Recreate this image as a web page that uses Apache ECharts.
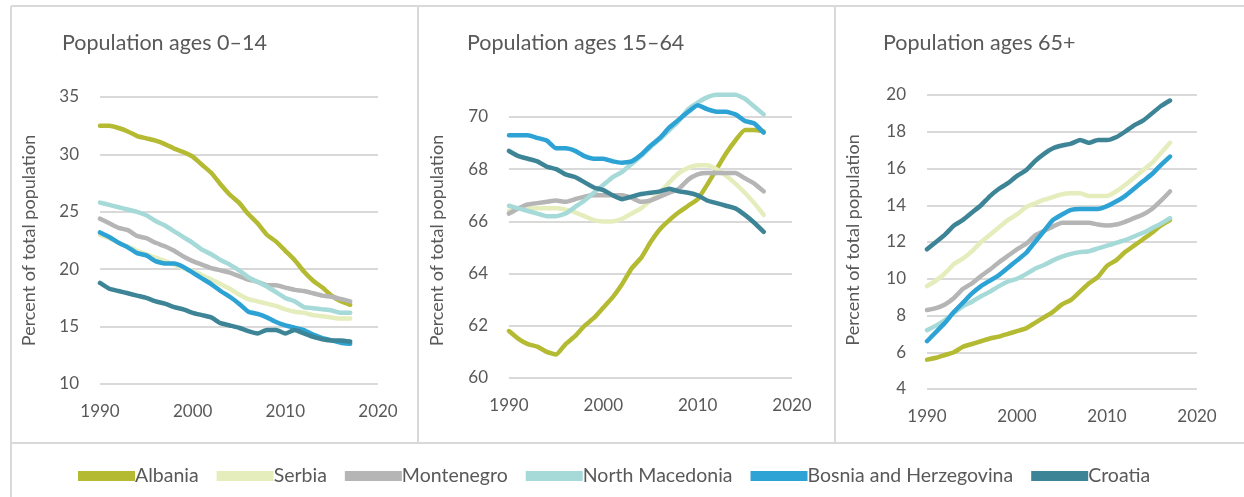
<!DOCTYPE html>
<html>
<head>
<meta charset="utf-8">
<title>Population by age group</title>
<script src="https://cdn.jsdelivr.net/npm/echarts@6/dist/echarts.min.js"></script>
<style>
  html, body { margin: 0; padding: 0; background: #fff; }
  #chart { width: 1244px; height: 497px; }
</style>
</head>
<body>
<div id="chart"></div>
<script>
// data
const years = [1990, 1991, 1992, 1993, 1994, 1995, 1996, 1997, 1998, 1999,
  2000, 2001, 2002, 2003, 2004, 2005, 2006, 2007, 2008, 2009,
  2010, 2011, 2012, 2013, 2014, 2015, 2016, 2017]

const countries = ['Albania', 'Serbia', 'Montenegro', 'North Macedonia', 'Bosnia and Herzegovina', 'Croatia']
const colors = ['#B5BA33', '#E6EDBD', '#B5B5B5', '#A6DAD8', '#2CA2D5', '#3D8596']

const panelTitles = ['Population ages 0–14', 'Population ages 15–64', 'Population ages 65+']
const yMin = [10, 60, 4]
const yMax = [35, 70, 20]
const yStep = [5, 2, 2]
const xTicks = [1990, 2000, 2010, 2020]

// ages 0-14
const albania014 = [32.5, 32.5, 32.3, 32.0, 31.6, 31.4, 31.2, 30.9, 30.5, 30.2, 29.8, 29.1, 28.4, 27.4, 26.5, 25.8, 24.8, 24.0, 23.0, 22.4, 21.6, 20.8, 19.8, 19.0, 18.4, 17.7, 17.2, 16.9]
const serbia014 = [23.0, 22.7, 22.3, 22.0, 21.6, 21.3, 21.0, 20.7, 20.4, 20.1, 19.8, 19.5, 19.1, 18.7, 18.3, 17.8, 17.4, 17.2, 17.0, 16.8, 16.5, 16.3, 16.2, 16.0, 15.9, 15.8, 15.7, 15.7]
const montenegro014 = [24.4, 24.0, 23.6, 23.4, 22.9, 22.7, 22.3, 22.0, 21.6, 21.1, 20.7, 20.4, 20.1, 19.9, 19.7, 19.4, 19.1, 18.9, 18.6, 18.6, 18.4, 18.2, 18.1, 17.9, 17.7, 17.6, 17.4, 17.2]
const macedonia014 = [25.8, 25.6, 25.4, 25.2, 25.0, 24.7, 24.2, 23.8, 23.3, 22.8, 22.3, 21.7, 21.3, 20.8, 20.4, 19.9, 19.3, 18.9, 18.5, 18.0, 17.5, 17.2, 16.7, 16.6, 16.5, 16.4, 16.2, 16.2]
const bosnia014 = [23.2, 22.8, 22.3, 21.9, 21.4, 21.2, 20.7, 20.5, 20.5, 20.2, 19.7, 19.2, 18.7, 18.1, 17.6, 17.0, 16.3, 16.1, 15.8, 15.4, 15.1, 14.9, 14.7, 14.3, 14.0, 13.8, 13.6, 13.5]
const croatia014 = [18.8, 18.3, 18.1, 17.9, 17.7, 17.5, 17.2, 17.0, 16.7, 16.5, 16.2, 16.0, 15.8, 15.3, 15.1, 14.9, 14.6, 14.4, 14.7, 14.7, 14.4, 14.7, 14.4, 14.1, 13.9, 13.8, 13.8, 13.7]

// ages 15-64
const albania1564 = [61.8, 61.5, 61.3, 61.2, 61.0, 60.9, 61.3, 61.6, 62.0, 62.3, 62.7, 63.1, 63.6, 64.2, 64.6, 65.2, 65.7, 66.05, 66.35, 66.6, 66.85, 67.4, 68.0, 68.6, 69.1, 69.5, 69.5, 69.45]
const serbia1564 = [66.4, 66.5, 66.5, 66.5, 66.5, 66.5, 66.45, 66.35, 66.2, 66.05, 66.0, 66.0, 66.1, 66.3, 66.5, 66.8, 67.1, 67.5, 67.85, 68.05, 68.15, 68.15, 68.0, 67.75, 67.45, 67.1, 66.7, 66.25]
const montenegro1564 = [66.3, 66.5, 66.65, 66.7, 66.75, 66.8, 66.75, 66.85, 66.95, 67.0, 67.0, 67.0, 67.0, 66.9, 66.75, 66.8, 66.95, 67.1, 67.25, 67.6, 67.8, 67.85, 67.85, 67.85, 67.85, 67.65, 67.45, 67.15]
const macedonia1564 = [66.6, 66.5, 66.4, 66.3, 66.2, 66.2, 66.3, 66.55, 66.8, 67.1, 67.4, 67.7, 67.9, 68.2, 68.5, 68.85, 69.15, 69.5, 69.85, 70.3, 70.55, 70.75, 70.85, 70.85, 70.85, 70.7, 70.4, 70.1]
const bosnia1564 = [69.3, 69.3, 69.3, 69.2, 69.1, 68.8, 68.8, 68.7, 68.5, 68.4, 68.4, 68.3, 68.25, 68.3, 68.55, 68.9, 69.2, 69.6, 69.9, 70.2, 70.45, 70.3, 70.2, 70.2, 70.1, 69.85, 69.75, 69.4]
const croatia1564 = [68.7, 68.5, 68.4, 68.3, 68.1, 68.0, 67.8, 67.7, 67.5, 67.3, 67.2, 67.0, 66.85, 66.95, 67.05, 67.1, 67.15, 67.25, 67.15, 67.1, 67.0, 66.8, 66.7, 66.6, 66.5, 66.25, 65.95, 65.6]

// ages 65+
const albania65 = [5.6, 5.7, 5.85, 6.0, 6.3, 6.45, 6.6, 6.75, 6.85, 7.0, 7.15, 7.3, 7.6, 7.9, 8.2, 8.6, 8.85, 9.3, 9.75, 10.1, 10.7, 11.0, 11.45, 11.8, 12.15, 12.5, 12.9, 13.2]
const serbia65 = [9.6, 9.9, 10.3, 10.8, 11.1, 11.5, 12.0, 12.4, 12.8, 13.2, 13.5, 13.9, 14.1, 14.3, 14.45, 14.6, 14.65, 14.65, 14.5, 14.5, 14.5, 14.75, 15.1, 15.5, 15.9, 16.3, 16.85, 17.4]
const montenegro65 = [8.3, 8.4, 8.6, 8.95, 9.45, 9.75, 10.15, 10.5, 10.9, 11.25, 11.6, 11.9, 12.35, 12.6, 12.85, 13.05, 13.05, 13.05, 13.05, 12.95, 12.9, 12.95, 13.1, 13.3, 13.5, 13.8, 14.25, 14.75]
const macedonia65 = [7.2, 7.45, 7.75, 8.15, 8.5, 8.75, 9.05, 9.3, 9.6, 9.85, 10.0, 10.25, 10.55, 10.75, 11.0, 11.2, 11.35, 11.45, 11.5, 11.65, 11.8, 11.95, 12.1, 12.3, 12.5, 12.75, 13.0, 13.3]
const bosnia65 = [6.6, 7.1, 7.6, 8.2, 8.7, 9.2, 9.6, 9.9, 10.2, 10.6, 11.0, 11.4, 12.0, 12.6, 13.2, 13.5, 13.75, 13.8, 13.8, 13.8, 13.95, 14.2, 14.5, 14.9, 15.3, 15.7, 16.2, 16.65]
const croatia65 = [11.6, 12.0, 12.4, 12.9, 13.2, 13.6, 14.0, 14.5, 14.9, 15.2, 15.6, 15.9, 16.4, 16.8, 17.1, 17.25, 17.35, 17.55, 17.4, 17.55, 17.55, 17.7, 18.0, 18.35, 18.6, 19.0, 19.4, 19.7]

const panelData = [
  [albania014, serbia014, montenegro014, macedonia014, bosnia014, croatia014],
  [albania1564, serbia1564, montenegro1564, macedonia1564, bosnia1564, croatia1564],
  [albania65, serbia65, montenegro65, macedonia65, bosnia65, croatia65]
]

const font = 'Lato, "Open Sans", sans-serif'
const textColor = '#595959'
const frameColor = '#D9D9D9'

// plot area of each panel (px)
const grids = [
  { left: 100, top: 97, width: 278, height: 287 },
  { left: 509, top: 117, width: 283, height: 261 },
  { left: 927, top: 95, width: 270, height: 294 }
]
const titleLeft = [57, 462, 878]
const nameGap = [62, 63, 65]
const namePad = [[0, 0, 0, 0], [0, 0, 0, 14], [0, 0, 0, 4]]

const chart = echarts.init(document.getElementById('chart'), null, { renderer: 'canvas' })

const series = []
panelData.forEach((rows, p) => {
  rows.forEach((vals, i) => {
    series.push({
      name: countries[i],
      type: 'line',
      xAxisIndex: p,
      yAxisIndex: p,
      data: years.map((y, k) => [y, vals[k]]),
      showSymbol: false,
      clip: false,
      smooth: 0.15,
      lineStyle: { width: 4.5, color: colors[i], cap: 'round', join: 'round' },
      itemStyle: { color: colors[i] },
      emphasis: { disabled: true }
    })
  })
})

const option = {
  animation: false,
  textStyle: { fontFamily: font },
  title: panelTitles.map((t, p) => ({
    text: t,
    left: titleLeft[p],
    top: 27,
    textStyle: { fontFamily: font, fontSize: 21.5, fontWeight: 'normal', color: textColor }
  })),
  legend: {
    data: countries,
    left: 73,
    top: 461,
    icon: 'rect',
    itemWidth: 57,
    itemHeight: 10,
    itemGap: 18,
    textStyle: { fontFamily: font, fontSize: 19.5, color: textColor, padding: [0, 0, 0, -5] }
  },
  grid: grids.map(g => ({ ...g, containLabel: false })),
  xAxis: grids.map((g, p) => ({
    type: 'value',
    gridIndex: p,
    min: xTicks[0],
    max: xTicks[xTicks.length - 1],
    interval: 10,
    axisLine: { show: false },
    axisTick: { show: false },
    splitLine: { show: false },
    axisLabel: { color: textColor, fontSize: 17, margin: 19, fontFamily: font, formatter: v => String(v) }
  })),
  yAxis: grids.map((g, p) => ({
    type: 'value',
    gridIndex: p,
    min: yMin[p],
    max: yMax[p],
    interval: yStep[p],
    name: 'Percent of total population',
    nameLocation: 'middle',
    nameRotate: 90,
    nameGap: nameGap[p],
    nameTextStyle: { color: textColor, fontSize: 18, fontFamily: font, padding: namePad[p] },
    axisLine: { show: false },
    axisTick: { show: false },
    splitLine: { lineStyle: { color: '#D9D9D9', width: 2 } },
    axisLabel: { color: textColor, fontSize: 17, margin: 21, fontFamily: font }
  })),
  graphic: [
    // outer frame and panel dividers
    { type: 'line', shape: { x1: 11, y1: 6, x2: 1244, y2: 6 }, style: { stroke: frameColor, lineWidth: 2 }, silent: true },
    { type: 'line', shape: { x1: 11, y1: 443, x2: 1244, y2: 443 }, style: { stroke: frameColor, lineWidth: 2 }, silent: true },
    { type: 'line', shape: { x1: 11, y1: 6, x2: 11, y2: 497 }, style: { stroke: frameColor, lineWidth: 2 }, silent: true },
    { type: 'line', shape: { x1: 418, y1: 6, x2: 418, y2: 443 }, style: { stroke: frameColor, lineWidth: 2 }, silent: true },
    { type: 'line', shape: { x1: 835, y1: 6, x2: 835, y2: 443 }, style: { stroke: frameColor, lineWidth: 2 }, silent: true }
  ],
  series
}

chart.setOption(option)
window.addEventListener('resize', () => chart.resize())
</script>
</body>
</html>
